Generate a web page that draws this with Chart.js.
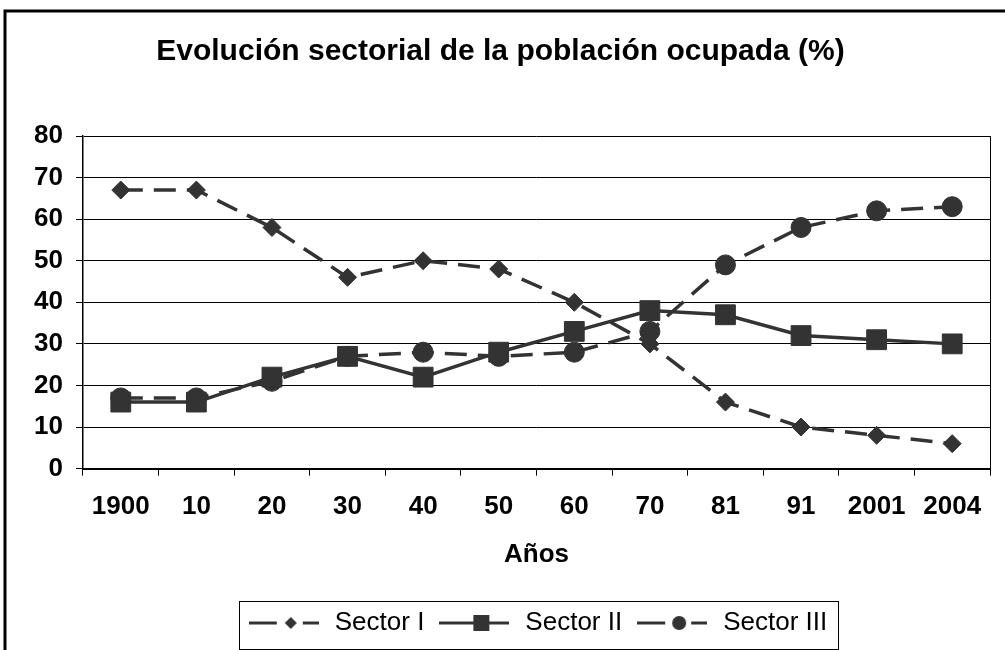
<!DOCTYPE html>
<html>
<head>
<meta charset="utf-8">
<title>Evolución sectorial de la población ocupada</title>
<script src="https://cdn.jsdelivr.net/npm/chart.js@4.4.1/dist/chart.umd.min.js"></script>
<style>
  html, body { margin: 0; padding: 0; background: #fff; }
  canvas { display: block; }
</style>
</head>
<body>
<canvas id="poblacion" width="1005" height="650"></canvas>
<script>
var years = ['1900', '10', '20', '30', '40', '50', '60', '70', '81', '91', '2001', '2004'];
var sectorI = [67, 67, 58, 46, 50, 48, 40, 30, 16, 10, 8, 6];
var sectorII = [16, 16, 22, 27, 22, 28, 33, 38, 37, 32, 31, 30];
var sectorIII = [17, 17, 21, 27, 28, 27, 28, 33, 49, 58, 62, 63];
var seriesNames = ['Sector I', 'Sector II', 'Sector III'];

var ink = '#333333';
var font = '"Liberation Sans", Arial, sans-serif';

// small line+marker pictures for the legend, like the excel one
function legendIcon(marker, dashed) {
	var c = document.createElement('canvas');
	c.width = 70;
	c.height = 20;
	var g = c.getContext('2d');
	g.strokeStyle = ink;
	g.fillStyle = ink;
	g.lineWidth = 3;
	g.beginPath();
	if (dashed) {
		g.moveTo(0, 10); g.lineTo(28, 10);
		g.moveTo(54, 10); g.lineTo(70, 10);
	} else {
		g.moveTo(0, 10); g.lineTo(70, 10);
	}
	g.stroke();
	g.beginPath();
	if (marker === 'diamond') {
		g.moveTo(42, 4); g.lineTo(48, 10); g.lineTo(42, 16); g.lineTo(36, 10);
		g.closePath();
	} else if (marker === 'square') {
		g.rect(34, 2, 16, 16);
	} else {
		g.arc(42, 10, 7, 0, Math.PI * 2);
	}
	g.fill();
	return c;
}

var icons = [legendIcon('diamond', true), legendIcon('square', false), legendIcon('circle', true)];

// outer frame of the excel chart object and the box round the legend
var framePlugin = {
	id: 'frame',
	afterDraw: function(chart) {
		var ctx = chart.ctx;
		ctx.save();
		ctx.strokeStyle = '#000';
		ctx.lineWidth = 3;
		ctx.beginPath();
		ctx.moveTo(5, 700);
		ctx.lineTo(5, 11);
		ctx.lineTo(1010, 11);
		ctx.stroke();

		var boxes = chart.legend.legendHitBoxes;
		if (boxes && boxes.length) {
			var first = boxes[0];
			var last = boxes[boxes.length - 1];
			var cy = first.top + first.height / 2;
			ctx.lineWidth = 1;
			ctx.strokeRect(Math.round(first.left) - 6.5, Math.round(cy) - 21.5,
				Math.round(last.left + last.width - first.left) + 18, 48);
		}
		ctx.restore();
	}
};

new Chart('poblacion', {
	type: 'line',
	data: {
		labels: years,
		datasets: [{
			label: seriesNames[0],
			data: sectorI,
			borderColor: ink,
			backgroundColor: ink,
			borderWidth: 3.5,
			borderDash: [22, 11],
			pointStyle: 'rectRot',
			pointRadius: 9,
			pointBorderWidth: 1,
			tension: 0
		}, {
			label: seriesNames[1],
			data: sectorII,
			borderColor: ink,
			backgroundColor: ink,
			borderWidth: 3.5,
			pointStyle: 'rect',
			pointRadius: 14,
			pointBorderWidth: 1,
			tension: 0
		}, {
			label: seriesNames[2],
			data: sectorIII,
			borderColor: ink,
			backgroundColor: ink,
			borderWidth: 3.5,
			borderDash: [22, 11],
			pointStyle: 'circle',
			pointRadius: 10,
			pointBorderWidth: 1,
			tension: 0
		}]
	},
	options: {
		responsive: false,
		animation: false,
		layout: { padding: { left: 4, right: 8, top: 0, bottom: 4 } },
		plugins: {
			tooltip: { enabled: false },
			title: {
				display: true,
				text: 'Evolución sectorial de la población ocupada (%)',
				color: '#000',
				font: { family: font, size: 30, weight: 'bold' },
				padding: { top: 34, bottom: 66 }
			},
			legend: {
				display: true,
				position: 'bottom',
				fullSize: false,
				labels: {
					color: '#000',
					font: { family: font, size: 26 },
					usePointStyle: true,
					pointStyleWidth: 76,
					padding: 12,
					generateLabels: function(chart) {
						return seriesNames.map(function(name, i) {
							return {
								text: name,
								pointStyle: icons[i],
								fillStyle: ink,
								strokeStyle: ink,
								lineWidth: 0,
								hidden: false,
								datasetIndex: i
							};
						});
					}
				}
			}
		},
		scales: {
			x: {
				offset: true,
				// labels fit inside their category, no extra side padding
				afterFit: function(scale) {
					scale.paddingLeft = 0;
					scale.paddingRight = 0;
				},
				grid: {
					display: true,
					offset: true,
					drawOnChartArea: false,
					drawTicks: true,
					tickLength: 7,
					color: '#000'
				},
				border: { color: '#000', width: 2 },
				ticks: {
					color: '#000',
					padding: 16,
					maxRotation: 0,
					autoSkip: false,
					font: { family: font, size: 26, weight: 'bold' }
				},
				title: {
					display: true,
					text: 'Años',
					color: '#000',
					font: { family: font, size: 26, weight: 'bold' },
					padding: { top: 0, bottom: 28 }
				}
			},
			y: {
				min: 0,
				max: 80,
				afterFit: function(scale) { scale.width = 79; },
				grid: {
					color: '#000',
					lineWidth: 1,
					tickLength: 7,
					tickColor: '#000'
				},
				border: { color: '#000', width: 1.5 },
				ticks: {
					stepSize: 10,
					color: '#000',
					padding: 13,
					font: { family: font, size: 26, weight: 'bold' }
				}
			},
			// only there to give the plot its right edge
			edge: {
				type: 'linear',
				position: 'right',
				min: 0,
				max: 80,
				afterFit: function(scale) { scale.width = 0; },
				grid: { drawOnChartArea: false, drawTicks: false },
				border: { color: '#000', width: 1 },
				ticks: { display: false }
			}
		}
	},
	plugins: [framePlugin]
});
</script>
</body>
</html>
